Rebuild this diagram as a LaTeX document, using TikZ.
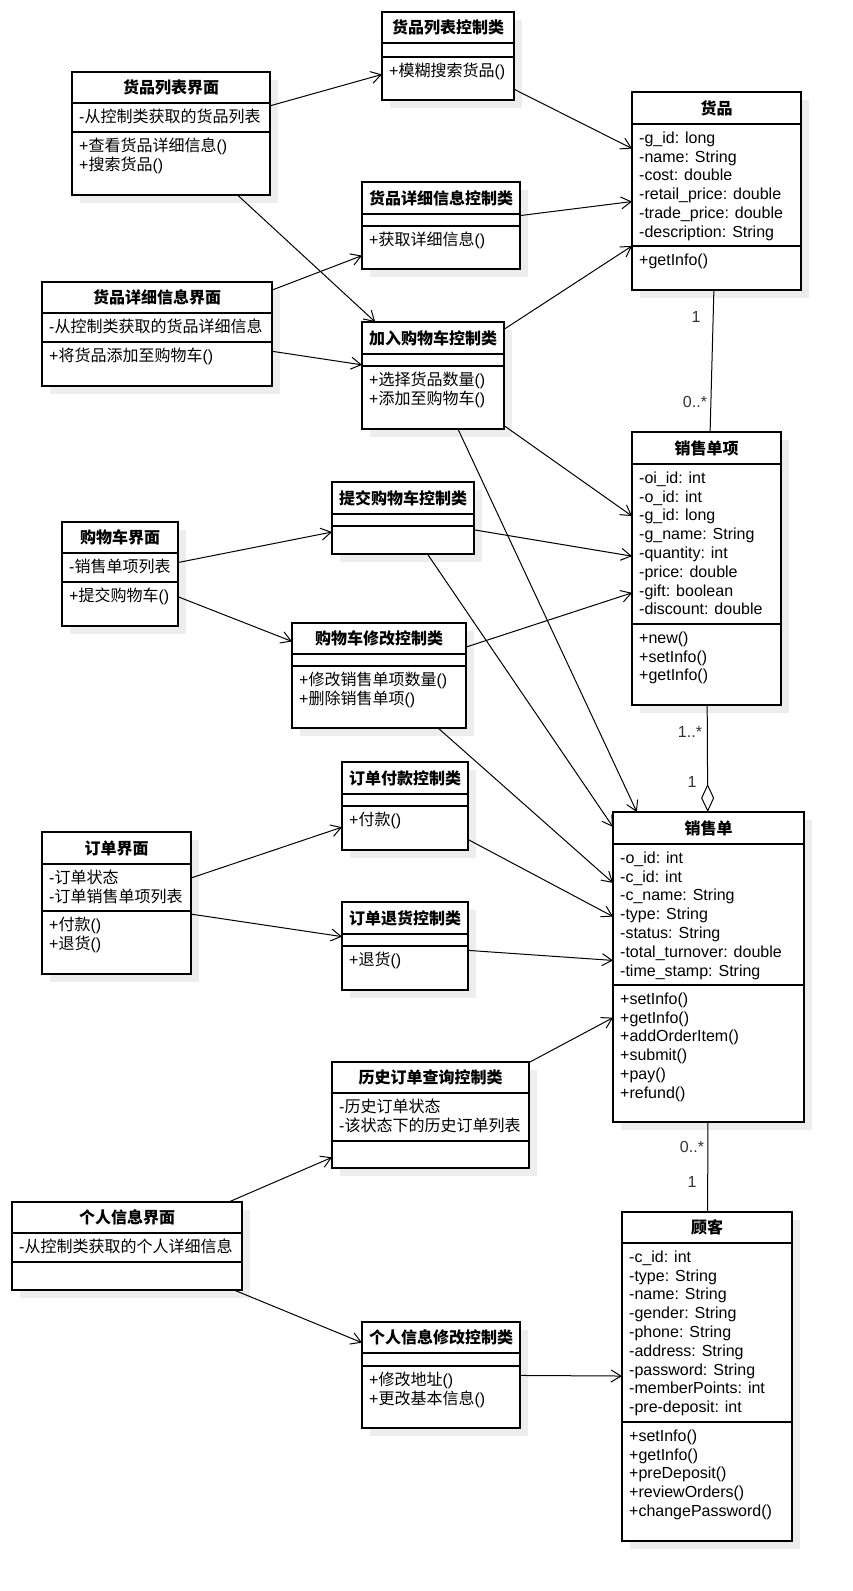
\documentclass[tikz,border=0pt]{standalone}
\usepackage{fontspec}
\setmainfont{Liberation Sans}
\newfontfamily\cjk{Noto Sans CJK SC}
\usetikzlibrary{arrows.meta}
\newcommand\zh[1]{{\cjk #1}}
\newcommand\sline{\rule[-4pt]{0pt}{18.5pt}}
\tikzset{
  classbox/.style={draw=black, line width=1.2pt, fill=white, rectangle, inner sep=0pt, outer sep=0pt},
  sepline/.style={draw=black, line width=1.2pt},
  boxshade/.style={fill=black!7},
  titletext/.style={font=\fontsize{16}{18.8}\selectfont\bfseries, inner sep=0pt, anchor=center},
  bodytext/.style={font=\fontsize{16}{18.8}\selectfont, inner sep=0pt, anchor=north west, align=left},
  dep/.style={draw=black, line width=1pt, -{Straight Barb[length=10pt,width=12pt]}},
  assoc/.style={draw=black, line width=1pt},
  aggr/.style={draw=black, line width=1pt, -{Diamond[open,length=28pt,width=13pt,line width=1pt]}},
  mult/.style={font=\fontsize{16}{18.8}\selectfont, inner sep=0pt, text=black!80},
}
% name, left, top, right, bottom, sep1, sep2, title
\newcommand\umlclass[8]{%
  \fill[boxshade] (#2+8,#3+8) rectangle (#4+8,#5+8);
  \node[classbox, minimum width=#4-#2, minimum height=#5-#3] (#1) at ({(#2+#4)/2},{(#3+#5)/2}) {};
  \draw[sepline] (#2,#6) -- (#4,#6);
  \draw[sepline] (#2,#7) -- (#4,#7);
  \node[titletext] at ({(#2+#4)/2},{(#3+#6)/2}) {#8};
}
\newcommand\umltext[3]{\node[bodytext] at (#1+7,#2+4.5) {#3};}
\begin{document}
\begin{tikzpicture}[x=1pt,y=-1pt]
\useasboundingbox (0,0) rectangle (853,1591);
\fill[white] (0,0) rectangle (853,1591);

\umlclass{glk}{382}{12}{514}{100}{43}{57}{\zh{货品列表控制类}}
\umltext{382}{57}{\sline+\zh{模糊搜索货品}()}

\umlclass{glj}{72}{72}{270}{195}{103}{132}{\zh{货品列表界面}}
\umltext{72}{103}{\sline-\zh{从控制类获取的货品列表}}
\umltext{72}{132}{\sline+\zh{查看货品详细信息}()\\\sline+\zh{搜索货品}()}

\umlclass{gxk}{362}{182}{520}{269}{214}{226}{\zh{货品详细信息控制类}}
\umltext{362}{226}{\sline+\zh{获取详细信息}()}

\umlclass{gxj}{42}{282}{272}{386}{313}{342}{\zh{货品详细信息界面}}
\umltext{42}{313}{\sline-\zh{从控制类获取的货品详细信息}}
\umltext{42}{342}{\sline+\zh{将货品添加至购物车}()}

\umlclass{jrk}{362}{322}{504}{429}{354}{366}{\zh{加入购物车控制类}}
\umltext{362}{366}{\sline+\zh{选择货品数量}()\\\sline+\zh{添加至购物车}()}

\umlclass{goods}{632}{92}{801}{290}{124}{246}{\zh{货品}}
\umltext{632}{124}{\sline-g\_id: long\\\sline-name: String\\\sline-cost: double\\\sline-retail\_price: double\\\sline-trade\_price: double\\\sline-description: String}
\umltext{632}{246}{\sline+getInfo()}

\umlclass{item}{632}{432}{781}{705}{464}{624}{\zh{销售单项}}
\umltext{632}{464}{\sline-oi\_id: int\\\sline-o\_id: int\\\sline-g\_id: long\\\sline-g\_name: String\\\sline-quantity: int\\\sline-price: double\\\sline-gift: boolean\\\sline-discount: double}
\umltext{632}{624}{\sline+new()\\\sline+setInfo()\\\sline+getInfo()}

\umlclass{tjk}{332}{482}{474}{554}{514}{526}{\zh{提交购物车控制类}}

\umlclass{gwj}{62}{522}{178}{626}{553}{582}{\zh{购物车界面}}
\umltext{62}{553}{\sline-\zh{销售单项列表}}
\umltext{62}{582}{\sline+\zh{提交购物车}()}

\umlclass{gxgk}{292}{623}{466}{728}{654}{666}{\zh{购物车修改控制类}}
\umltext{292}{666}{\sline+\zh{修改销售单项数量}()\\\sline+\zh{删除销售单项}()}

\umlclass{fkk}{342}{762}{468}{850}{794}{806}{\zh{订单付款控制类}}
\umltext{342}{806}{\sline+\zh{付款}()}

\umlclass{ddj}{42}{832}{191}{974}{864}{911}{\zh{订单界面}}
\umltext{42}{864}{\sline-\zh{订单状态}\\\sline-\zh{订单销售单项列表}}
\umltext{42}{911}{\sline+\zh{付款}()\\\sline+\zh{退货}()}

\umlclass{thk}{342}{902}{468}{990}{934}{946}{\zh{订单退货控制类}}
\umltext{342}{946}{\sline+\zh{退货}()}

\umlclass{order}{613}{812}{804}{1122}{844}{985}{\zh{销售单}}
\umltext{613}{844}{\sline-o\_id: int\\\sline-c\_id: int\\\sline-c\_name: String\\\sline-type: String\\\sline-status: String\\\sline-total\_turnover: double\\\sline-time\_stamp: String}
\umltext{613}{985}{\sline+setInfo()\\\sline+getInfo()\\\sline+addOrderItem()\\\sline+submit()\\\sline+pay()\\\sline+refund()}

\umlclass{lsk}{332}{1062}{529}{1168}{1093}{1141}{\zh{历史订单查询控制类}}
\umltext{332}{1093}{\sline-\zh{历史订单状态}\\\sline-\zh{该状态下的历史订单列表}}

\umlclass{grj}{12}{1202}{242}{1290}{1233}{1262}{\zh{个人信息界面}}
\umltext{12}{1233}{\sline-\zh{从控制类获取的个人详细信息}}

\umlclass{grk}{362}{1322}{520}{1428}{1353}{1366}{\zh{个人信息修改控制类}}
\umltext{362}{1366}{\sline+\zh{修改地址}()\\\sline+\zh{更改基本信息}()}

\umlclass{cust}{622}{1212}{792}{1541}{1243}{1422}{\zh{顾客}}
\umltext{622}{1243}{\sline-c\_id: int\\\sline-type: String\\\sline-name: String\\\sline-gender: String\\\sline-phone: String\\\sline-address: String\\\sline-password: String\\\sline-memberPoints: int\\\sline-pre-deposit: int}
\umltext{622}{1422}{\sline+setInfo()\\\sline+getInfo()\\\sline+preDeposit()\\\sline+reviewOrders()\\\sline+changePassword()}

% connectors
\draw[dep] (glj) -- (glk);
\draw[dep] (glj) -- (jrk);
\draw[dep] (gxj) -- (gxk);
\draw[dep] (gxj) -- (jrk);
\draw[dep] (glk) -- (goods);
\draw[dep] (gxk) -- (goods);
\draw[dep] (jrk) -- (goods);
\draw[dep] (jrk) -- (item);
\draw[dep] (jrk) -- (order);
\draw[dep] (tjk) -- (item);
\draw[dep] (tjk) -- (order);
\draw[dep] (gwj) -- (tjk);
\draw[dep] (gwj) -- (gxgk);
\draw[dep] (gxgk) -- (item);
\draw[dep] (gxgk) -- (order);
\draw[dep] (ddj) -- (fkk);
\draw[dep] (ddj) -- (thk);
\draw[dep] (fkk) -- (order);
\draw[dep] (thk) -- (order);
\draw[dep] (lsk) -- (order);
\draw[dep] (grj) -- (lsk);
\draw[dep] (grj) -- (grk);
\draw[dep] (grk) -- (cust);
\draw[assoc] (goods) -- (item);
\draw[aggr] (item) -- (order);
\draw[assoc] (order) -- (cust);

% multiplicities
\node[mult] (m1) at (696,317) {1};
\node[mult] (m2) at (695,402) {0..*};
\node[mult] (m3) at (690,732) {1..*};
\node[mult] (m4) at (692,782) {1};
\node[mult] (m5) at (692,1147) {0..*};
\node[mult] (m6) at (692,1182) {1};
\end{tikzpicture}
\end{document}
